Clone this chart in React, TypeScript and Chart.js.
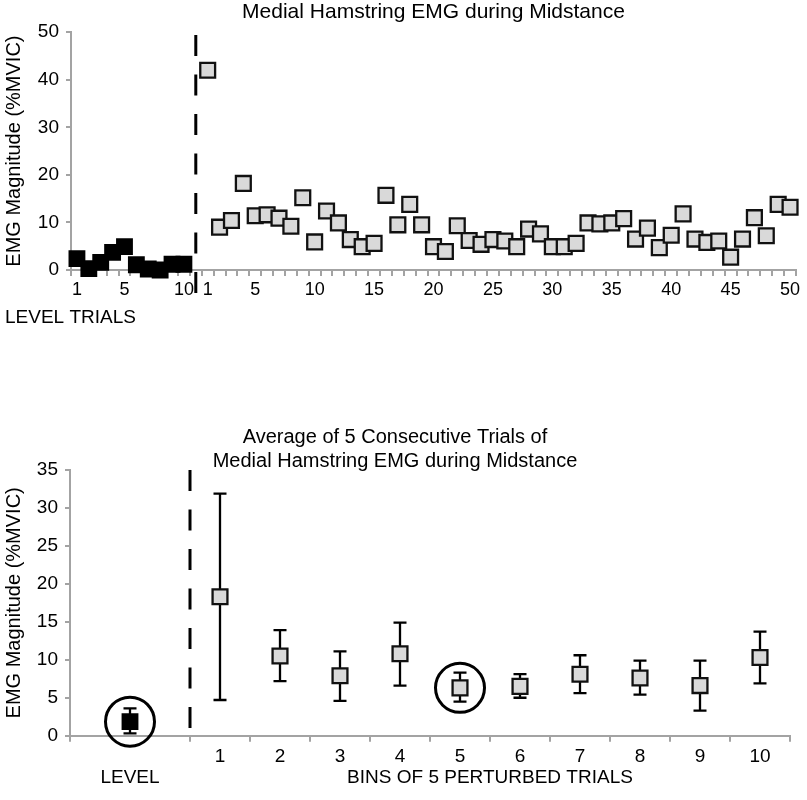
import React, { useEffect, useRef } from 'react';
import { Chart, registerables } from 'chart.js';

Chart.register(...registerables);

// ---------- Top chart data ----------
const levelTrialValues = [2.4, 0.3, 1.6, 3.7, 4.9, 1.1, 0.2, 0.0, 1.2, 1.2];
const perturbedTrialValues = [
  42.0, 9.0, 10.4, 18.2, 11.4, 11.6, 10.9, 9.2, 15.2, 5.9,
  12.4, 9.9, 6.4, 4.9, 5.6, 15.7, 9.5, 13.8, 9.5, 4.9,
  3.9, 9.3, 6.2, 5.4, 6.4, 6.1, 4.9, 8.6, 7.6, 4.9,
  4.9, 5.6, 9.9, 9.7, 9.9, 10.8, 6.5, 8.8, 4.7, 7.3,
  11.8, 6.5, 5.8, 6.1, 2.7, 6.5, 11.0, 7.2, 13.8, 13.2,
];
const levelTickTrials = [1, 5, 10];
const perturbedTickTrials = [1, 5, 10, 15, 20, 25, 30, 35, 40, 45, 50];
const topYMax = 50;
const topYStep = 10;

// ---------- Bottom chart data ----------
const binLabels = ['1', '2', '3', '4', '5', '6', '7', '8', '9', '10'];
const binMeans = [18.3, 10.5, 7.9, 10.8, 6.3, 6.5, 8.1, 7.6, 6.6, 10.3];
const binUpper = [31.9, 13.9, 11.1, 14.9, 8.3, 8.1, 10.6, 9.9, 9.9, 13.7];
const binLower = [4.7, 7.2, 4.6, 6.6, 4.5, 5.0, 5.6, 5.4, 3.3, 6.9];
const levelMean = [1.85];
const levelUpper = [3.6];
const levelLower = [0.3];
const circledBins = [5];
const bottomYMax = 35;
const bottomYStep = 5;

const FONT = "'Liberation Sans', Arial, Helvetica, sans-serif";
const AXIS_GRAY = '#a3a3a3';
const MARKER_GRAY = '#d9d9d9';

// top layout in slot units: 10 level slots, 1 gap slot, 50 perturbed slots
const LEVEL_N = levelTrialValues.length;
const GAP = 1;
const TOP_TOTAL = LEVEL_N + GAP + perturbedTrialValues.length;
const levelX = (trial: number) => trial - 0.5;
const pertX = (trial: number) => LEVEL_N + GAP + trial - 0.5;

// bottom layout: level occupies 2 units, then each bin 1 unit
const LEVEL_W = 2;
const BOTTOM_TOTAL = LEVEL_W + binMeans.length;
const levelPos = LEVEL_W / 2;
const binX = (bin: number) => LEVEL_W + bin - 0.5;

const topTickLabels = new Map<number, string>();
levelTickTrials.forEach((t) => topTickLabels.set(levelX(t), String(t)));
perturbedTickTrials.forEach((t) => topTickLabels.set(pertX(t), String(t)));

const bottomTickLabels = new Map<number, string | string[]>();
bottomTickLabels.set(levelPos, ['', 'LEVEL']);
binLabels.forEach((l, i) => bottomTickLabels.set(binX(i + 1), l));
bottomTickLabels.set(LEVEL_W + binMeans.length / 2, ['', 'BINS OF 5 PERTURBED TRIALS']);

const isMark = (v: number) => Number.isInteger(v);

const levelTrialsLabel = {
  id: 'levelTrialsLabel',
  afterDraw(chart: any) {
    const { ctx, chartArea } = chart;
    ctx.save();
    ctx.font = `19px ${FONT}`;
    ctx.fillStyle = '#000';
    ctx.textAlign = 'left';
    ctx.textBaseline = 'middle';
    ctx.fillText('LEVEL TRIALS', 5, chartArea.bottom + 48);
    ctx.restore();
  },
};

const errorBars = {
  id: 'errorBars',
  beforeDatasetsDraw(chart: any) {
    const { ctx } = chart;
    const xs = chart.scales.x;
    const ys = chart.scales.y;
    const bars: { x: number; lo: number; hi: number }[] = [];
    levelMean.forEach((_, i) => bars.push({ x: levelPos, lo: levelLower[i], hi: levelUpper[i] }));
    binMeans.forEach((_, i) => bars.push({ x: binX(i + 1), lo: binLower[i], hi: binUpper[i] }));
    ctx.save();
    ctx.strokeStyle = '#000';
    ctx.lineWidth = 2.3;
    const cap = 6.5;
    bars.forEach((b) => {
      const px = xs.getPixelForValue(b.x);
      const pHi = ys.getPixelForValue(b.hi);
      const pLo = ys.getPixelForValue(b.lo);
      ctx.beginPath();
      ctx.moveTo(px, pHi);
      ctx.lineTo(px, pLo);
      ctx.moveTo(px - cap, pHi);
      ctx.lineTo(px + cap, pHi);
      ctx.moveTo(px - cap, pLo);
      ctx.lineTo(px + cap, pLo);
      ctx.stroke();
    });
    ctx.restore();
  },
};

function yAxis(max: number, step: number, width: number) {
  return {
    type: 'linear',
    min: 0,
    max,
    afterFit: (scale: any) => {
      scale.width = width;
    },
    ticks: { stepSize: step, font: { family: FONT, size: 19 }, color: '#000', padding: 7 },
    grid: { drawOnChartArea: false, tickLength: 5, color: AXIS_GRAY, lineWidth: 2 },
    border: { color: AXIS_GRAY, width: 2 },
    title: {
      display: true,
      text: 'EMG Magnitude (%MVIC)',
      font: { family: FONT, size: 20 },
      color: '#000',
      padding: { top: 2, bottom: 0 },
    },
  };
}

function xFit(height: number) {
  return (scale: any) => {
    scale.height = height;
    scale.paddingLeft = 0;
    scale.paddingRight = 0;
  };
}

function TopChart() {
  const ref = useRef<HTMLCanvasElement>(null);
  useEffect(() => {
    if (!ref.current) return;
    const chart = new Chart(ref.current, {
      type: 'scatter',
      data: {
        datasets: [
          {
            label: 'Level trials',
            data: levelTrialValues.map((v, i) => ({ x: levelX(i + 1), y: v })),
            pointStyle: 'rect',
            pointRadius: 10.5,
            pointBackgroundColor: '#000',
            pointBorderColor: '#000',
            pointBorderWidth: 2,
            showLine: false,
            clip: false,
          },
          {
            label: 'Perturbed trials',
            data: perturbedTrialValues.map((v, i) => ({ x: pertX(i + 1), y: v })),
            pointStyle: 'rect',
            pointRadius: 10.5,
            pointBackgroundColor: MARKER_GRAY,
            pointBorderColor: '#111',
            pointBorderWidth: 2.3,
            showLine: false,
            clip: false,
          },
          {
            label: 'divider',
            type: 'line',
            data: [
              { x: LEVEL_N + GAP / 2, y: 49.4 },
              { x: LEVEL_N + GAP / 2, y: -6.4 },
            ],
            borderColor: '#000',
            borderWidth: 3,
            borderDash: [21, 18.5],
            pointRadius: 0,
            showLine: true,
            fill: false,
            clip: false,
          },
        ],
      } as any,
      options: {
        responsive: false,
        animation: false,
        devicePixelRatio: 1,
        layout: { autoPadding: false, padding: { left: 0, right: 11, top: 0, bottom: 44.4 } },
        plugins: {
          legend: { display: false },
          tooltip: { enabled: false },
          title: {
            display: true,
            fullSize: false,
            text: 'Medial Hamstring EMG during Midstance',
            font: { family: FONT, size: 21, weight: 'normal' },
            color: '#000',
            padding: { top: 0, bottom: 7 },
          },
        },
        scales: {
          x: {
            type: 'linear',
            min: 0,
            max: TOP_TOTAL,
            afterBuildTicks: (scale: any) => {
              const t: { value: number }[] = [];
              for (let i = 0; i <= TOP_TOTAL; i++) t.push({ value: i });
              topTickLabels.forEach((_, k) => t.push({ value: k }));
              t.sort((a, b) => a.value - b.value);
              scale.ticks = t;
            },
            afterFit: xFit(30.6),
            ticks: {
              autoSkip: false,
              maxRotation: 0,
              minRotation: 0,
              padding: 3,
              font: { family: FONT, size: 18 },
              color: '#000',
              callback: (v: any) => topTickLabels.get(Number(v)) ?? '',
            },
            grid: {
              drawOnChartArea: false,
              tickLength: 6,
              lineWidth: 2,
              color: (c: any) => (c.tick && isMark(c.tick.value) ? AXIS_GRAY : 'rgba(0,0,0,0)'),
              tickColor: (c: any) => (c.tick && isMark(c.tick.value) ? AXIS_GRAY : 'rgba(0,0,0,0)'),
            },
            border: { color: AXIS_GRAY, width: 2 },
          },
          y: yAxis(topYMax, topYStep, 71),
        },
      } as any,
      plugins: [levelTrialsLabel],
    });
    return () => chart.destroy();
  }, []);
  return <canvas ref={ref} width={807} height={345} style={{ position: 'absolute', left: 0, top: 0 }} />;
}

function BottomChart() {
  const ref = useRef<HTMLCanvasElement>(null);
  useEffect(() => {
    if (!ref.current) return;
    const circled = [
      { x: levelPos, y: levelMean[0] },
      ...circledBins.map((b) => ({ x: binX(b), y: binMeans[b - 1] })),
    ];
    const chart = new Chart(ref.current, {
      type: 'scatter',
      data: {
        datasets: [
          {
            label: 'circles',
            data: circled,
            pointStyle: 'circle',
            pointRadius: 24.5,
            pointBackgroundColor: 'rgba(0,0,0,0)',
            pointBorderColor: '#000',
            pointBorderWidth: 3,
            showLine: false,
            clip: false,
          },
          {
            label: 'Level',
            data: levelMean.map((v) => ({ x: levelPos, y: v })),
            pointStyle: 'rect',
            pointRadius: 10.5,
            pointBackgroundColor: '#000',
            pointBorderColor: '#000',
            pointBorderWidth: 2,
            showLine: false,
            clip: false,
          },
          {
            label: 'Bins',
            data: binMeans.map((v, i) => ({ x: binX(i + 1), y: v })),
            pointStyle: 'rect',
            pointRadius: 10.5,
            pointBackgroundColor: MARKER_GRAY,
            pointBorderColor: '#111',
            pointBorderWidth: 2.3,
            showLine: false,
            clip: false,
          },
          {
            label: 'divider',
            type: 'line',
            data: [
              { x: LEVEL_W, y: bottomYMax },
              { x: LEVEL_W, y: 0 },
            ],
            borderColor: '#000',
            borderWidth: 3,
            borderDash: [21, 18.5],
            pointRadius: 0,
            showLine: true,
            fill: false,
            clip: false,
          },
        ],
      } as any,
      options: {
        responsive: false,
        animation: false,
        devicePixelRatio: 1,
        layout: { autoPadding: false, padding: { left: 0, right: 17, top: 0, bottom: 11.5 } },
        plugins: {
          legend: { display: false },
          tooltip: { enabled: false },
          title: {
            display: true,
            text: ['Average of 5 Consecutive Trials of', 'Medial Hamstring EMG during Midstance'],
            font: { family: FONT, size: 20, weight: 'normal', lineHeight: 24 / 20 },
            color: '#000',
            padding: { top: 25, bottom: -3 },
          },
        },
        scales: {
          x: {
            type: 'linear',
            min: 0,
            max: BOTTOM_TOTAL,
            afterBuildTicks: (scale: any) => {
              const vals = new Set<number>();
              vals.add(0);
              for (let i = LEVEL_W; i <= BOTTOM_TOTAL; i++) vals.add(i);
              bottomTickLabels.forEach((_, k) => vals.add(k));
              scale.ticks = Array.from(vals).sort((a, b) => a - b).map((value) => ({ value }));
            },
            afterFit: xFit(52.8),
            ticks: {
              autoSkip: false,
              maxRotation: 0,
              minRotation: 0,
              padding: 4.8,
              font: { family: FONT, size: 19, lineHeight: 21 / 19 },
              color: '#000',
              callback: (v: any) => bottomTickLabels.get(Number(v)) ?? '',
            },
            grid: {
              drawOnChartArea: false,
              tickLength: 6,
              lineWidth: 2,
              color: (c: any) =>
                c.tick && isMark(c.tick.value) && (c.tick.value === 0 || c.tick.value >= LEVEL_W)
                  ? AXIS_GRAY
                  : 'rgba(0,0,0,0)',
              tickColor: (c: any) =>
                c.tick && isMark(c.tick.value) && (c.tick.value === 0 || c.tick.value >= LEVEL_W)
                  ? AXIS_GRAY
                  : 'rgba(0,0,0,0)',
            },
            border: { color: AXIS_GRAY, width: 2 },
          },
          y: yAxis(bottomYMax, bottomYStep, 70),
        },
      } as any,
      plugins: [errorBars],
    });
    return () => chart.destroy();
  }, []);
  return <canvas ref={ref} width={807} height={400} style={{ position: 'absolute', left: 0, top: 400 }} />;
}

export default function App() {
  return (
    <div style={{ position: 'absolute', left: 0, top: 0, width: 807, height: 800, background: '#fff', overflow: 'hidden' }}>
      <TopChart />
      <BottomChart />
    </div>
  );
}
